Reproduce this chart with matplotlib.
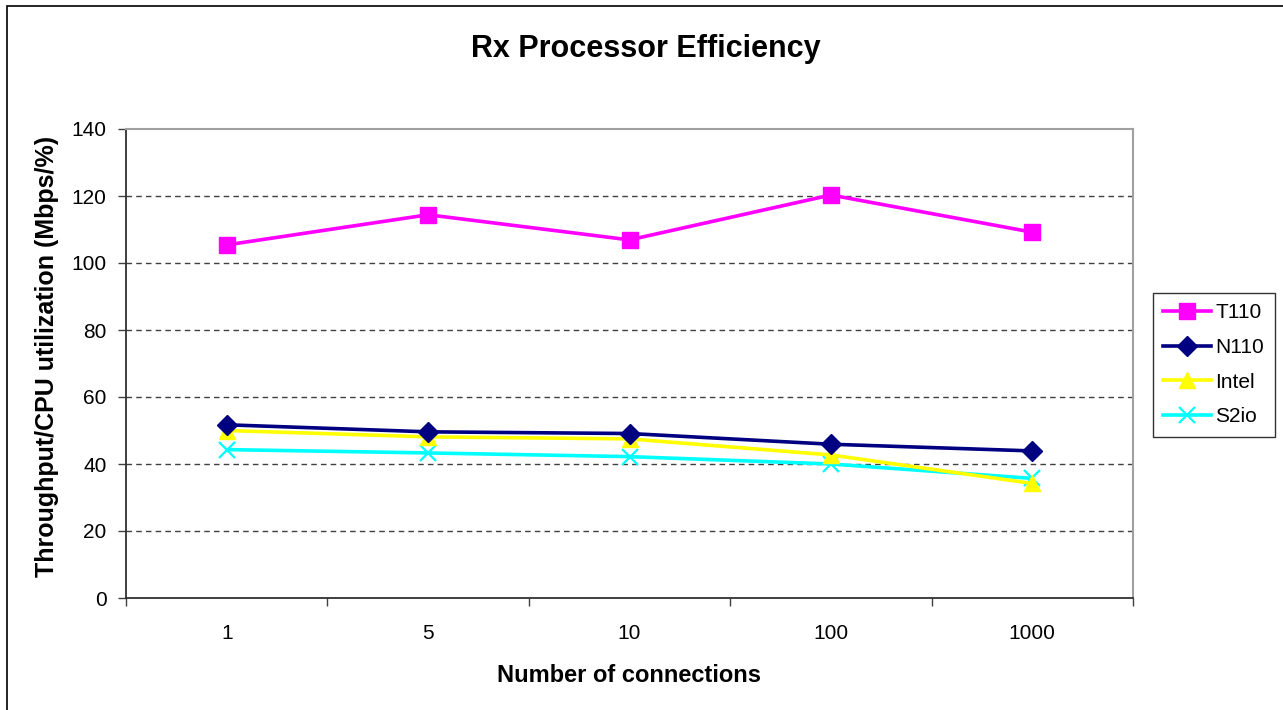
import matplotlib
matplotlib.use("Agg")
import matplotlib.pyplot as plt
from matplotlib.patches import Rectangle

categories = ["1", "5", "10", "100", "1000"]
t110 = [105.4, 114.4, 106.9, 120.3, 109.2]
n110 = [51.7, 49.6, 49.1, 45.9, 43.9]
intel = [50.0, 48.1, 47.5, 42.7, 34.2]
s2io = [44.3, 43.3, 42.2, 40.0, 35.7]
yticks = [0, 20, 40, 60, 80, 100, 120, 140]

plt.rcParams['font.family'] = ['Liberation Sans', 'DejaVu Sans']

W, H = 1283, 710
fig = plt.figure(figsize=(W / 100, H / 100), dpi=100)
fig.patch.set_facecolor('white')

# outer chart border (top and left visible)
fig.add_artist(Rectangle((7 / W, -0.1), 1.2, (H - 6) / H + 0.1, transform=fig.transFigure,
                         fill=False, edgecolor='black', linewidth=1.2))

ax = fig.add_axes([126 / W, (H - 598) / H, (1133 - 126) / W, (598 - 129) / H])
x = list(range(len(categories)))

ax.plot(x, t110, color='#FF00FF', lw=2.6, marker='s', ms=12, label='T110', zorder=5)
ax.plot(x, n110, color='#000080', lw=2.6, marker='D', ms=10, label='N110', zorder=5)
ax.plot(x, intel, color='#FFFF00', lw=2.6, marker='^', ms=12, label='Intel', zorder=4)
ax.plot(x, s2io, color='#00FFFF', lw=2.6, marker='x', ms=12, mew=1.6, label='S2io', zorder=3)

ax.set_xlim(-0.5, len(categories) - 0.5)
ax.set_ylim(0, 140)
ax.set_yticks(yticks)
ax.set_xticks(x)
ax.set_xticklabels(categories)
ax.set_xticks([i - 0.5 for i in range(len(categories) + 1)], minor=True)
ax.tick_params(axis='x', which='major', length=0, pad=19, labelsize=15)
ax.tick_params(axis='x', which='minor', length=6, width=1, color='#404040', direction='out')
ax.tick_params(axis='y', length=6, width=1, color='#404040', direction='out', pad=8, labelsize=15)

for v in yticks[1:-1]:
    ax.axhline(v, color='#404040', lw=1, ls=(0, (4, 3)), zorder=1)

ax.spines['top'].set_color('#a0a0a0')
ax.spines['right'].set_color('#a0a0a0')
ax.spines['top'].set_linewidth(1.5)
ax.spines['right'].set_linewidth(1.5)
ax.spines['left'].set_color('#303030')
ax.spines['bottom'].set_color('#303030')
ax.spines['left'].set_linewidth(1.3)
ax.spines['bottom'].set_linewidth(1.3)

fig.text(629 / W, 1 - 682 / H, 'Number of connections', fontsize=17, fontweight='bold',
         ha='center', va='baseline')
fig.text(47 / W, 1 - 356 / H, 'Throughput/CPU utilization (Mbps/%)', fontsize=18, fontweight='bold',
         rotation=90, ha='center', va='center')
fig.text(646 / W, 1 - 57 / H, 'Rx Processor Efficiency', fontsize=22, fontweight='bold',
         ha='center', va='baseline')

leg = ax.legend(loc='upper left', bbox_to_anchor=(1153 / W, 1 - 293 / H), bbox_transform=fig.transFigure,
                frameon=True, fancybox=False, fontsize=15, handlelength=2.3, borderpad=0.5,
                labelspacing=0.75, handletextpad=0.2, borderaxespad=0, markerscale=1.0)
leg.get_frame().set_edgecolor('black')
leg.get_frame().set_linewidth(1.0)

fig.savefig('out.png', dpi=100, facecolor='white')
